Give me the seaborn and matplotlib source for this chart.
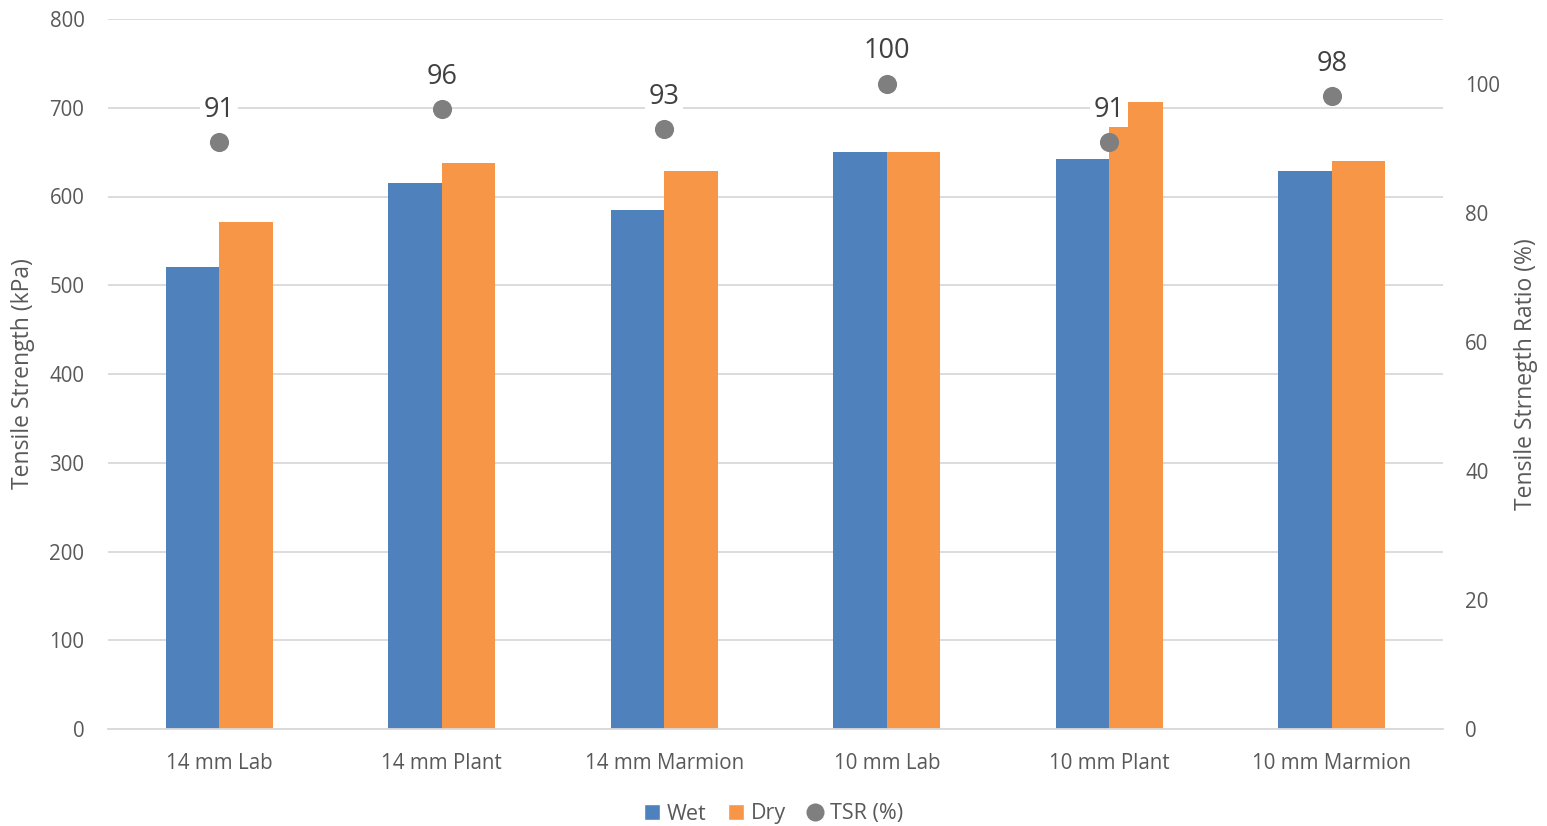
import matplotlib
matplotlib.use("Agg")
import matplotlib.pyplot as plt
import seaborn as sns
import pandas as pd
from matplotlib.lines import Line2D
from matplotlib.patches import Patch

categories = ["14 mm Lab", "14 mm Plant", "14 mm Marmion", "10 mm Lab", "10 mm Plant", "10 mm Marmion"]
wet = [521, 615, 585, 650, 642, 629]
dry = [571, 638, 629, 650, 706, 640]
tsr = [91, 96, 93, 100, 91, 98]

WET_C = "#4F81BD"
DRY_C = "#F79646"
TSR_C = "#7F7F7F"
TEXT_C = "#595959"
GRID_C = "#D9D9D9"

sns.set_theme(style="white")
plt.rcParams["font.family"] = ["Open Sans", "DejaVu Sans"]

df = pd.DataFrame({
    "Category": categories * 2,
    "Strength": wet + dry,
    "Condition": ["Wet"] * len(categories) + ["Dry"] * len(categories),
})

fig = plt.figure(figsize=(15.47, 8.26), dpi=100)
ax = fig.add_axes([108 / 1547, 1 - 729 / 826, (1443 - 108) / 1547, (729 - 19) / 826])

sns.barplot(data=df, x="Category", y="Strength", hue="Condition",
            order=categories, hue_order=["Wet", "Dry"],
            palette=[WET_C, DRY_C], width=0.48, gap=0, saturation=1,
            linewidth=0, ax=ax, legend=False)

ax.set_ylim(0, 800)
ax.set_xlim(-0.5, len(categories) - 0.5)
ax.set_yticks(range(0, 801, 100))
ax.yaxis.grid(True, color=GRID_C, linewidth=1.3)
ax.set_axisbelow(True)
for s in ["top", "right", "left"]:
    ax.spines[s].set_visible(False)
ax.spines["bottom"].set_color(GRID_C)
ax.spines["bottom"].set_linewidth(1.3)
ax.tick_params(axis="both", length=0, labelsize=14.8, colors=TEXT_C)
ax.tick_params(axis="y", pad=17)
ax.tick_params(axis="x", pad=17)
ax.set_xlabel("")
ax.set_ylabel("Tensile Strength (kPa)", fontsize=16.5, color=TEXT_C, labelpad=10)

ax2 = ax.twinx()
sns.scatterplot(x=list(range(len(categories))), y=tsr, ax=ax2, color=TSR_C,
                s=190, linewidth=0, zorder=5, legend=False)
ax2.set_ylim(0, 110)
ax2.set_yticks(range(0, 101, 20))
for s in ["top", "right", "left", "bottom"]:
    ax2.spines[s].set_visible(False)
ax2.tick_params(axis="y", length=0, labelsize=14.8, colors=TEXT_C, pad=16)
ax2.set_ylabel("Tensile Strnegth Ratio (%)", fontsize=16.5, color=TEXT_C, labelpad=10)

for i, v in enumerate(tsr):
    ax2.annotate(f"{v}", (i, v), xytext=(0, 13), textcoords="offset points",
                 ha="center", va="bottom", fontsize=19.5, color="#404040",
                 bbox=dict(boxstyle="square,pad=0.12", fc="white", ec="none"),
                 zorder=6)

handles = [
    Patch(facecolor=WET_C, label="Wet"),
    Patch(facecolor=DRY_C, label="Dry"),
    Line2D([0], [0], marker="o", color="none", markerfacecolor=TSR_C,
           markeredgecolor="none", markersize=13, label="TSR (%)"),
]
fig.legend(handles=handles, loc="center", bbox_to_anchor=(0.5, 1 - 814 / 826),
           ncol=3, frameon=False, fontsize=15.5, labelcolor=TEXT_C,
           handlelength=0.75, handleheight=0.75, handletextpad=0.3, columnspacing=1.0)

fig.savefig("out.png", dpi=100, facecolor="white")
